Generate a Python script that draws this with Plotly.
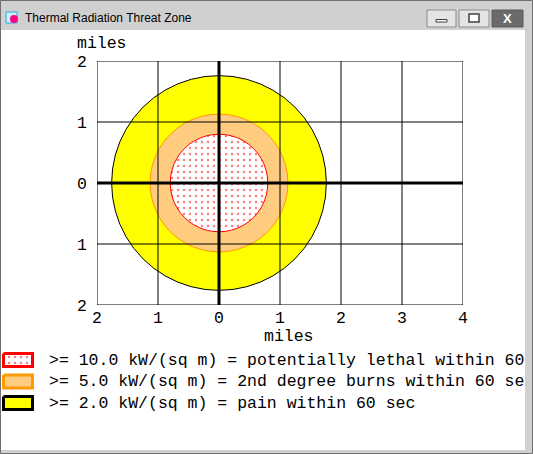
import numpy as np
import plotly.graph_objects as go

W, H = 533, 454

# threat zones (miles), outer to inner
zone_names = ["yellow", "orange", "red"]
zone_radii = [1.76, 1.13, 0.80]
legend_labels = [
    ">= 10.0 kW/(sq m) = potentially lethal within 60",
    ">= 5.0 kW/(sq m) = 2nd degree burns within 60 se",
    ">= 2.0 kW/(sq m) = pain within 60 sec",
]
x_ticks = [-2, -1, 0, 1, 2, 3, 4]
x_ticktext = ["2", "1", "0", "1", "2", "3", "4"]
y_ticks = [-2, -1, 0, 1, 2]
y_ticktext = ["2", "1", "0", "1", "2"]

MONO = "Liberation Mono, Courier New, monospace"
FS = 16.5

# plot area in pixels
PL, PR, PT, PB = 97, 463, 61, 305


def px(x):
    return x / W


def py(y):
    return 1 - y / H


styles = {
    "yellow": dict(fillcolor="#ffff00", line=dict(color="black", width=1), fillpattern=None),
    "orange": dict(fillcolor="white", line=dict(color="#ff9900", width=1),
                   fillpattern=dict(shape=".", fgcolor="#ff9900", bgcolor="white", size=3, solidity=0.9)),
    "red": dict(fillcolor="white", line=dict(color="red", width=1),
                fillpattern=dict(shape=".", fgcolor="red", bgcolor="white", size=6, solidity=0.14)),
}

fig = go.Figure()
theta = np.linspace(0, 2 * np.pi, 49)
for name, r in zip(zone_names, zone_radii):
    st = styles[name]
    kw = dict(x=r * np.cos(theta), y=r * np.sin(theta), mode="lines", fill="toself",
              fillcolor=st["fillcolor"], line=st["line"], hoverinfo="skip", showlegend=False)
    if st["fillpattern"]:
        kw["fillpattern"] = st["fillpattern"]
    fig.add_trace(go.Scatter(**kw))

# legend swatches, drawn on a pixel overlay axis
swatch_order = ["red", "orange", "yellow"]
swatch_line = {"red": "red", "orange": "#ff9900", "yellow": "black"}
row_y = [360, 381.5, 403]
for name, yc in zip(swatch_order, row_y):
    st = styles[name]
    x0, x1, y0, y1 = 3.5, 32.5, yc - 6.5, yc + 6.5
    kw = dict(x=[x0, x1, x1, x0, x0], y=[y0, y0, y1, y1, y0], xaxis="x2", yaxis="y2",
              mode="lines", fill="toself", fillcolor=st["fillcolor"],
              line=dict(color=swatch_line[name], width=3), hoverinfo="skip", showlegend=False)
    if st["fillpattern"]:
        kw["fillpattern"] = st["fillpattern"]
    fig.add_trace(go.Scatter(**kw))

shapes = []
# window chrome
shapes.append(dict(type="rect", xref="paper", yref="paper", x0=0, x1=1, y0=py(30), y1=1,
                   fillcolor="#d0d0d0", line_width=0, layer="below"))
shapes.append(dict(type="rect", xref="paper", yref="paper", x0=px(1), x1=px(525), y0=py(450), y1=py(30),
                   fillcolor="white", line_width=0, layer="below"))
shapes.append(dict(type="rect", xref="paper", yref="paper", x0=px(0.5), x1=px(532.5), y0=py(453.5), y1=py(0.5),
                   line=dict(color="#6e6e6e", width=1), layer="below"))
shapes.append(dict(type="rect", xref="paper", yref="paper", x0=px(6), x1=px(17), y0=py(23), y1=py(12),
                   fillcolor="#c8f0ff", line=dict(color="#3aa0e0", width=1), layer="below"))
shapes.append(dict(type="circle", xref="paper", yref="paper", x0=px(10), x1=px(18), y0=py(23), y1=py(15),
                   fillcolor="#ff0080", line_width=0, layer="below"))
for bx0, bx1, dark in [(427, 456, False), (459, 489, False), (492, 523, True)]:
    shapes.append(dict(type="rect", xref="paper", yref="paper", x0=px(bx0), x1=px(bx1), y0=py(27), y1=py(10),
                       fillcolor="#6a6a6a" if dark else "#e4e4e4",
                       line=dict(color="#5a5a5a" if dark else "#8c8c8c", width=1), layer="below"))
shapes.append(dict(type="rect", xref="paper", yref="paper", x0=px(436), x1=px(447), y0=py(22), y1=py(19.5),
                   fillcolor="white", line=dict(color="#404040", width=1), layer="below"))
shapes.append(dict(type="rect", xref="paper", yref="paper", x0=px(469), x1=px(479), y0=py(22), y1=py(14),
                   fillcolor="white", line=dict(color="#404040", width=1.5), layer="below"))

# grid and thick axes above the zones
for xv in x_ticks:
    shapes.append(dict(type="line", xref="x", yref="y", x0=xv, x1=xv, y0=y_ticks[0], y1=y_ticks[-1],
                       line=dict(color="black", width=3 if xv == 0 else 1), layer="above"))
for yv in y_ticks:
    shapes.append(dict(type="line", xref="x", yref="y", x0=x_ticks[0], x1=x_ticks[-1], y0=yv, y1=yv,
                       line=dict(color="black", width=3 if yv == 0 else 1), layer="above"))

annotations = [
    dict(text="Thermal Radiation Threat Zone", xref="paper", yref="paper", x=px(23), y=py(18),
         xanchor="left", yanchor="middle", showarrow=False,
         font=dict(family="Liberation Sans, Arial, sans-serif", size=12, color="black")),
    dict(text="<b>X</b>", xref="paper", yref="paper", x=px(507.5), y=py(18.5),
         xanchor="center", yanchor="middle", showarrow=False,
         font=dict(family="Liberation Sans, Arial, sans-serif", size=13, color="white")),
    dict(text="miles", xref="paper", yref="paper", x=px(102), y=py(44),
         xanchor="center", yanchor="middle", showarrow=False, font=dict(family=MONO, size=FS, color="black")),
    dict(text="miles", xref="paper", yref="paper", x=px(289), y=py(336),
         xanchor="center", yanchor="middle", showarrow=False, font=dict(family=MONO, size=FS, color="black")),
]
for label, yc in zip(legend_labels, row_y):
    annotations.append(dict(text=label, xref="paper", yref="paper", x=px(47), y=py(yc),
                            xanchor="left", yanchor="middle", showarrow=False,
                            font=dict(family=MONO, size=FS, color="black")))

fig.update_layout(
    width=W, height=H,
    margin=dict(l=0, r=0, t=0, b=0),
    paper_bgcolor="#d0d0d0",
    plot_bgcolor="rgba(0,0,0,0)",
    showlegend=False,
    shapes=shapes,
    annotations=annotations,
    xaxis=dict(domain=[px(PL), px(PR)], range=[x_ticks[0], x_ticks[-1]], tickvals=x_ticks, ticktext=x_ticktext,
               showgrid=False, zeroline=False, ticks="", ticklabelstandoff=0, fixedrange=True,
               tickfont=dict(family=MONO, size=FS, color="black"), automargin=False),
    yaxis=dict(domain=[py(PB), py(PT)], range=[y_ticks[0], y_ticks[-1]], tickvals=y_ticks, ticktext=y_ticktext,
               showgrid=False, zeroline=False, ticks="", ticklabelstandoff=9, fixedrange=True,
               tickfont=dict(family=MONO, size=FS, color="black"), automargin=False),
    xaxis2=dict(domain=[0, 1], range=[0, W], visible=False, anchor="y2", fixedrange=True),
    yaxis2=dict(domain=[0, 1], range=[H, 0], visible=False, anchor="x2", fixedrange=True),
)

fig.write_html(
    "out.html",
    config={"displayModeBar": False},
    post_script="document.body.style.margin='0';document.body.style.overflow='hidden';",
)
